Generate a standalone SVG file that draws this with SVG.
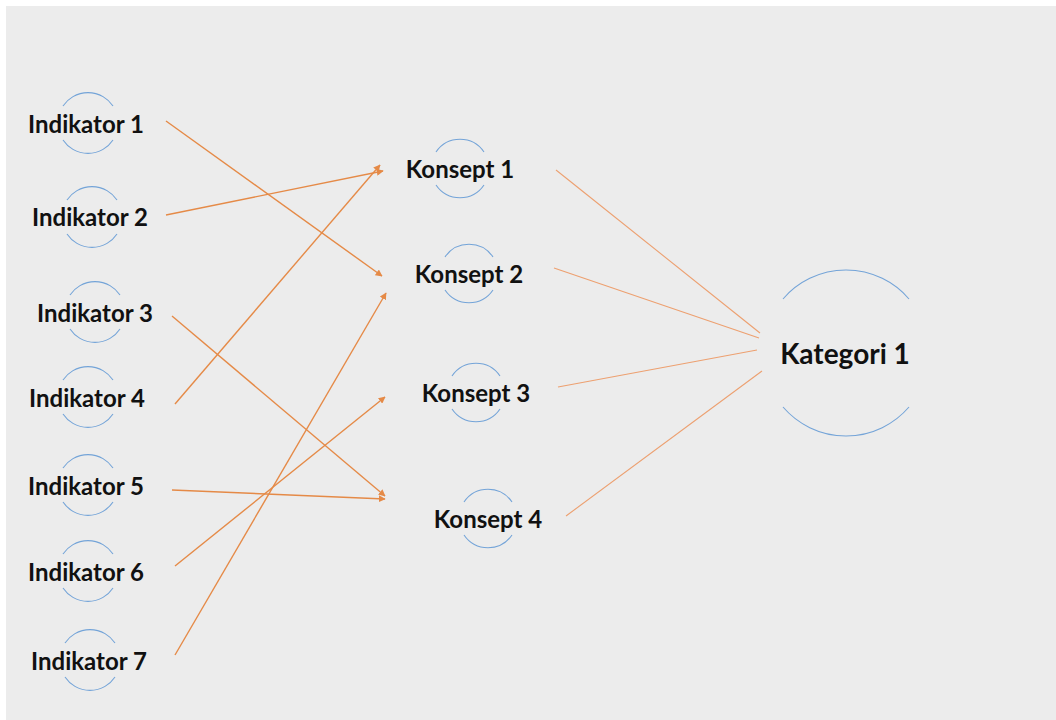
<svg xmlns="http://www.w3.org/2000/svg" width="1056" height="720" viewBox="0 0 1056 720">
<defs>
<style>
.bg{fill:#ececec}
.t{font-family:Lato,"Open Sans","Liberation Sans",sans-serif;font-weight:700;font-size:24px;fill:#111;text-anchor:middle;dominant-baseline:central}
.big{font-size:28px}
.arc{fill:none;stroke:#74a4d8;stroke-width:1.1}
.a{stroke:#e58a47;stroke-width:1.4;fill:none;marker-end:url(#ah)}
.l{stroke:#eda070;stroke-width:1.1;fill:none}
</style>
<marker id="ah" viewBox="0 0 10 10" refX="9" refY="5" markerWidth="7" markerHeight="7" markerUnits="userSpaceOnUse" orient="auto">
<path d="M0,0 L10,5 L0,10 z" fill="#e58a47"/>
</marker>
</defs>
<rect x="0" y="0" width="1056" height="720" fill="#ffffff"/>
<rect class="bg" x="6" y="6" width="1050" height="714"/>

<g id="connectors">
<line class="a" x1="166" y1="121" x2="382" y2="276"/>
<line class="a" x1="166" y1="215" x2="383" y2="171"/>
<line class="a" x1="172" y1="316" x2="385" y2="496"/>
<line class="a" x1="175" y1="404" x2="380" y2="165"/>
<line class="a" x1="172" y1="490" x2="385" y2="499"/>
<line class="a" x1="175" y1="566" x2="385" y2="397"/>
<line class="a" x1="175" y1="655" x2="386" y2="293"/>
<line class="l" x1="556" y1="170" x2="760" y2="333"/>
<line class="l" x1="554" y1="268" x2="759" y2="338"/>
<line class="l" x1="558" y1="387" x2="757" y2="350"/>
<line class="l" x1="566" y1="516" x2="762" y2="371"/>
</g>

<g id="ind1"><path class="arc" d="M63,106 A30,30 0 0 1 113,106 M63,140 A30,30 0 0 0 113,140"/><text class="t" x="86" y="123">Indikator 1</text></g>
<g id="ind2"><path class="arc" d="M67,200 A30,30 0 0 1 117,200 M67,234 A30,30 0 0 0 117,234"/><text class="t" x="90" y="216">Indikator 2</text></g>
<g id="ind3"><path class="arc" d="M70,295 A30,30 0 0 1 120,295 M70,329 A30,30 0 0 0 120,329"/><text class="t" x="95" y="312">Indikator 3</text></g>
<g id="ind4"><path class="arc" d="M63,380 A30,30 0 0 1 113,380 M63,414 A30,30 0 0 0 113,414"/><text class="t" x="87" y="397">Indikator 4</text></g>
<g id="ind5"><path class="arc" d="M63,468 A30,30 0 0 1 113,468 M63,502 A30,30 0 0 0 113,502"/><text class="t" x="86" y="485">Indikator 5</text></g>
<g id="ind6"><path class="arc" d="M63,554 A30,30 0 0 1 113,554 M63,588 A30,30 0 0 0 113,588"/><text class="t" x="86" y="571">Indikator 6</text></g>
<g id="ind7"><path class="arc" d="M65,643 A30,30 0 0 1 115,643 M65,677 A30,30 0 0 0 115,677"/><text class="t" x="89" y="660">Indikator 7</text></g>

<g id="kon1"><path class="arc" d="M436,152 A29,29 0 0 1 484,152 M436,185 A29,29 0 0 0 484,185"/><text class="t" x="460" y="168">Konsept 1</text></g>
<g id="kon2"><path class="arc" d="M445,257 A29,29 0 0 1 493,257 M445,290 A29,29 0 0 0 493,290"/><text class="t" x="469" y="273">Konsept 2</text></g>
<g id="kon3"><path class="arc" d="M452,376 A29,29 0 0 1 500,376 M452,409 A29,29 0 0 0 500,409"/><text class="t" x="476" y="392">Konsept 3</text></g>
<g id="kon4"><path class="arc" d="M464,502 A29,29 0 0 1 512,502 M464,535 A29,29 0 0 0 512,535"/><text class="t" x="488" y="518">Konsept 4</text></g>

<g id="kat1"><path class="arc" d="M783,299 A83,83 0 0 1 909,299 M783,407 A83,83 0 0 0 909,407"/><text class="t big" x="845" y="353">Kategori 1</text></g>
</svg>
